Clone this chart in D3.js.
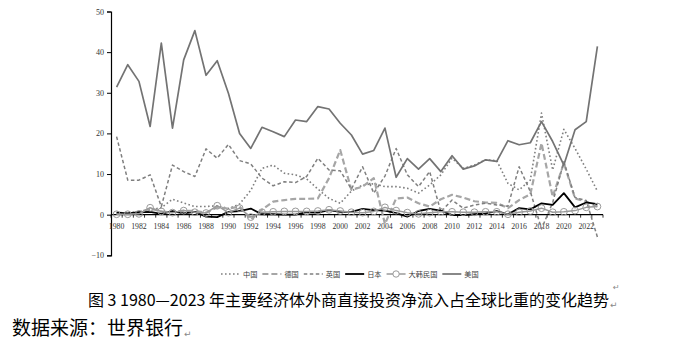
<!DOCTYPE html>
<html>
<head>
<meta charset="utf-8">
<script src="https://cdn.jsdelivr.net/npm/d3@7"></script>
<style>
  body { margin: 0; background: #fff; }
  svg { display: block; }
</style>
</head>
<body>
<svg id="chart" width="688" height="355"></svg>
<script>
// FDI net inflows, share of world total (%), 1980-2023
const years = d3.range(1980, 2024);

const china = [0.1, 0.5, 0.7, 1.2, 1.7, 3.8, 2.9, 2.0, 2.0, 2.2, 1.5, 2.6, 6.0, 11.4, 12.2, 10.2, 9.8, 8.8, 6.3, 4.0,
  2.8, 5.8, 7.3, 7.6, 6.9, 6.9, 6.5, 5.3, 7.3, 9.8, 13.9, 11.4, 12.2, 13.5, 13.3, 7.7, 6.1, 8.5, 25.0, 11.0,
  21.0, 16.3, 11.2, 5.8];
const germany = [0.6, 0.2, 0.5, 1.5, 0.8, 0.6, 1.0, 0.9, 0.5, 1.8, 1.5, 2.0, -1.2, 1.2, 3.2, 3.6, 3.9, 3.9, 4.0, 9.0,
  15.9, 6.1, 6.9, 9.0, -2.3, 4.0, 4.2, 2.8, 2.0, 3.8, 4.9, 4.2, 3.3, 3.0, 2.9, 1.6, 3.6, 5.0, 17.6, 4.4,
  12.7, 4.0, 3.2, 2.0];
const uk = [19.2, 8.5, 8.5, 9.8, 2.0, 12.2, 10.6, 9.4, 16.2, 13.9, 17.3, 13.3, 12.5, 9.0, 7.1, 8.1, 7.9, 9.4, 13.9, 11.0,
  10.8, 6.3, 11.8, 5.3, 9.5, 16.3, 9.8, 6.9, 10.6, 0.7, 3.6, 1.6, 2.4, 2.8, 2.4, 2.1, 11.8, 5.7, -3.5, 3.0,
  13.0, 4.2, 3.5, -5.5];
const japan = [0.5, 0.3, 0.6, 0.7, 0.2, 0.9, 0.3, 0.7, -0.5, -0.6, 0.7, 0.9, 1.5, 0.1, 0.1, 0.0, 0.0, 0.6, 0.5, 1.1,
  0.7, 0.7, 1.4, 1.1, 1.0, 0.4, -0.5, 0.9, 1.4, 1.0, -0.1, -0.1, 0.1, 0.3, 0.9, 0.1, 1.6, 1.3, 2.8, 2.4,
  5.3, 1.8, 3.0, 2.6];
const korea = [0.1, 0.1, 0.2, 1.7, 0.8, 0.5, 1.0, 0.6, 0.4, 2.2, 0.5, 1.6, -0.6, 0.6, 0.7, 0.8, 0.8, 0.8, 0.9, 1.2,
  0.9, 0.6, 0.5, 0.8, 1.8, 1.0, 0.5, 0.2, 0.5, 0.7, 0.7, 0.6, 0.6, 0.7, 0.7, 0.1, 0.6, 0.9, 1.6, 0.6,
  0.7, 1.0, 1.8, 2.0];
const usa = [31.4, 36.9, 32.8, 21.7, 42.2, 21.3, 38.1, 45.3, 34.3, 37.9, 29.9, 20.0, 16.3, 21.5, 20.4, 19.2, 23.3, 22.9, 26.6, 26.0,
  22.5, 19.6, 14.9, 15.8, 21.3, 9.2, 13.8, 11.2, 13.8, 10.6, 14.5, 11.2, 12.0, 13.5, 13.1, 18.2, 17.2, 17.7, 22.9, 18.0,
  12.2, 20.9, 22.9, 41.4];

const seriesNames = ["中国", "德国", "英国", "日本", "大韩民国", "美国"];
const yTicks = [-10, 0, 10, 20, 30, 40, 50];
const caption = "图 3 1980—2023 年主要经济体外商直接投资净流入占全球比重的变化趋势";
const source = "数据来源：世界银行";

// line styles, same order as seriesNames
const STYLES = [
  { color: "#7f7f7f", width: 1.6, dash: "1.6,2.4" },
  { color: "#a6a6a6", width: 2.2, dash: "6,3" },
  { color: "#7f7f7f", width: 1.5, dash: "3.5,2.5" },
  { color: "#000000", width: 1.8, dash: null },
  { color: "#9a9a9a", width: 1.5, dash: null, marker: true },
  { color: "#737373", width: 1.7, dash: null },
];

const values = [china, germany, uk, japan, korea, usa];
const series = seriesNames.map((name, i) => ({
  name,
  style: STYLES[i],
  points: years.map((yr, j) => ({ year: yr, v: values[i][j] })),
}));

const svg = d3.select("#chart");
const serif = "'Liberation Serif', 'Times New Roman', serif";
const cjk = "'Noto Sans CJK SC', sans-serif";

const x = d3.scaleBand().domain(years).range([111, 603]);
const y = d3.scaleLinear().domain([-10, 50]).range([255.3, 11.5]);
const cx = d => x(d) + x.bandwidth() / 2;

// y axis
const yAxis = svg.append("g")
  .attr("transform", "translate(111,0)")
  .call(d3.axisLeft(y).tickValues(yTicks).tickSize(4).tickPadding(3));
yAxis.select(".domain").attr("stroke", "#000").attr("stroke-width", 1.2);
yAxis.selectAll(".tick line").attr("stroke", "#000");
yAxis.selectAll(".tick text")
  .attr("font-family", serif).attr("font-size", 8).attr("fill", "#333");

// x axis at zero
const y0 = y(0);
svg.append("line")
  .attr("x1", 111).attr("x2", 603).attr("y1", y0).attr("y2", y0)
  .attr("stroke", "#000").attr("stroke-width", 1.2);
svg.append("g").selectAll("line")
  .data(years.concat([null]))
  .join("line")
  .attr("x1", d => d === null ? x.range()[1] : x(d))
  .attr("x2", d => d === null ? x.range()[1] : x(d))
  .attr("y1", y0).attr("y2", y0 + 3)
  .attr("stroke", "#000").attr("stroke-width", 0.8);
svg.append("g").selectAll("text")
  .data(years.filter(d => d % 2 === 0))
  .join("text")
  .attr("x", d => cx(d))
  .attr("y", y0 + 14)
  .attr("text-anchor", "middle")
  .attr("font-family", serif).attr("font-size", 7.8).attr("fill", "#333")
  .text(d => d);

// series lines
const line = d3.line().x(d => cx(d.year)).y(d => y(d.v));
const plot = svg.append("g");
series.forEach(s => {
  plot.append("path")
    .datum(s.points)
    .attr("d", line)
    .attr("fill", "none")
    .attr("stroke", s.style.color)
    .attr("stroke-width", s.style.width)
    .attr("stroke-dasharray", s.style.dash)
    .attr("stroke-linejoin", "round");
  if (s.style.marker) {
    plot.append("g").selectAll("circle")
      .data(s.points)
      .join("circle")
      .attr("cx", d => cx(d.year))
      .attr("cy", d => y(d.v))
      .attr("r", 3.4)
      .attr("fill", "none")
      .attr("stroke", s.style.color)
      .attr("stroke-width", 1);
  }
});

// legend
const legend = svg.append("g").attr("transform", "translate(221,274)");
let lx = 0;
series.forEach(s => {
  const item = legend.append("g").attr("transform", `translate(${lx},0)`);
  item.append("line")
    .attr("x1", 0).attr("x2", 19).attr("y1", 0).attr("y2", 0)
    .attr("stroke", s.style.color)
    .attr("stroke-width", s.style.width)
    .attr("stroke-dasharray", s.style.dash);
  if (s.style.marker) {
    item.append("circle").attr("cx", 9.5).attr("cy", 0).attr("r", 3.2)
      .attr("fill", "#fff").attr("stroke", s.style.color).attr("stroke-width", 1);
  }
  const t = item.append("text")
    .attr("x", 22).attr("y", 2.6)
    .attr("font-family", cjk).attr("font-size", 7.2).attr("fill", "#404040")
    .text(s.name);
  lx += 22 + t.node().getComputedTextLength() + 5;
});

// caption and source, each followed by a paragraph mark
const captionText = svg.append("text")
  .attr("x", 88).attr("y", 306)
  .attr("font-family", cjk).attr("font-size", 16).attr("fill", "#000")
  .text(caption);
const sourceText = svg.append("text")
  .attr("x", 12).attr("y", 335)
  .attr("font-family", cjk).attr("font-size", 19).attr("fill", "#000")
  .text(source);

const mark = (mx, my, size) => svg.append("text")
  .attr("x", mx).attr("y", my)
  .attr("font-family", "'DejaVu Sans', sans-serif").attr("font-size", size)
  .attr("fill", "#888")
  .text("↵");
mark(613, 290, 8);
mark(88 + captionText.node().getComputedTextLength() + 1, 308, 9);
mark(12 + sourceText.node().getComputedTextLength() + 1, 337, 9);
</script>
</body>
</html>
